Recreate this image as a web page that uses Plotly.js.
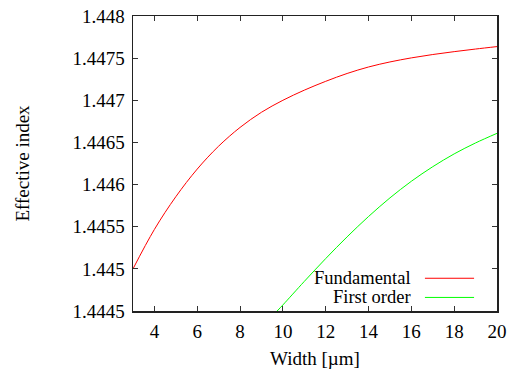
<!DOCTYPE html>
<html>
<head>
<meta charset="utf-8">
<script src="https://cdn.plot.ly/plotly-3.0.1.min.js"></script>
<style>html,body{margin:0;padding:0;background:#fff;}#chart{width:517px;height:369px;}</style>
</head>
<body>
<div id="chart"></div>
<script>
const widthFund = [3, 4, 5, 6, 7, 8, 9, 10, 11, 12, 13, 14, 15, 16, 17, 18, 19, 20];
const indexFund = [1.445000, 1.445468, 1.445856, 1.446184, 1.446456, 1.446678, 1.446858, 1.447000, 1.447120, 1.447225, 1.447318, 1.447395, 1.447455, 1.447503, 1.447543, 1.447577, 1.447608, 1.447637];
const widthFirst = [9.73, 10, 11, 12, 13, 14, 15, 16, 17, 18, 19, 20];
const indexFirst = [1.444500, 1.444572, 1.444851, 1.445122, 1.445380, 1.445621, 1.445842, 1.446039, 1.446212, 1.446364, 1.446494, 1.446608];
const seriesNames = ["Fundamental", "First order"];
const xTicks = [4, 6, 8, 10, 12, 14, 16, 18, 20];
const yTicks = [1.4445, 1.445, 1.4455, 1.446, 1.4465, 1.447, 1.4475, 1.448];
const yTickText = ["1.4445", "1.445", "1.4455", "1.446", "1.4465", "1.447", "1.4475", "1.448"];
const colors = ["#ff0000", "#00ff00"];

const font = "Liberation Serif";

const traces = [
  {x: widthFund, y: indexFund, name: seriesNames[0], mode: "lines", line: {color: colors[0], width: 1, shape: "spline", smoothing: 1}},
  {x: widthFirst, y: indexFirst, name: seriesNames[1], mode: "lines", line: {color: colors[1], width: 1, shape: "spline", smoothing: 1}}
];

const legY = [0.111, 0.046];
const layout = {
  width: 517, height: 369,
  margin: {l: 133, r: 20, t: 16, b: 58},
  paper_bgcolor: "#fff", plot_bgcolor: "#fff",
  showlegend: false,
  font: {family: font, size: 19, color: "#000"},
  xaxis: {
    range: [3, 20], tickvals: xTicks, ticks: "inside", ticklen: 5, tickcolor: "#333",
    showline: true, linecolor: "#222", linewidth: 1.5, mirror: "ticks", showgrid: false, zeroline: false,
    ticklabelstandoff: 3,
    title: {text: "Width [µm]", font: {family: font, size: 19}, standoff: 12},
    tickfont: {family: font, size: 19}
  },
  yaxis: {
    range: [1.4445, 1.448], tickvals: yTicks, ticktext: yTickText, ticks: "inside", ticklen: 5, tickcolor: "#333",
    showline: true, linecolor: "#222", linewidth: 1.5, mirror: "ticks", showgrid: false, zeroline: false,
    ticklabelstandoff: 3,
    title: {text: "Effective index", font: {family: font, size: 19}, standoff: 38},
    tickfont: {family: font, size: 19}
  },
  annotations: seriesNames.map((n, i) => ({
    xref: "paper", yref: "paper", x: 0.768, y: legY[i], xanchor: "right", yanchor: "middle",
    text: n, showarrow: false, font: {family: font, size: 18.5, color: "#000"}
  })),
  shapes: seriesNames.map((n, i) => ({
    type: "line", xref: "paper", yref: "paper", x0: 0.802, x1: 0.937, y0: legY[i], y1: legY[i],
    line: {color: colors[i], width: 1}
  }))
};

Plotly.newPlot("chart", traces, layout, {displayModeBar: false, staticPlot: true});
</script>
</body>
</html>
